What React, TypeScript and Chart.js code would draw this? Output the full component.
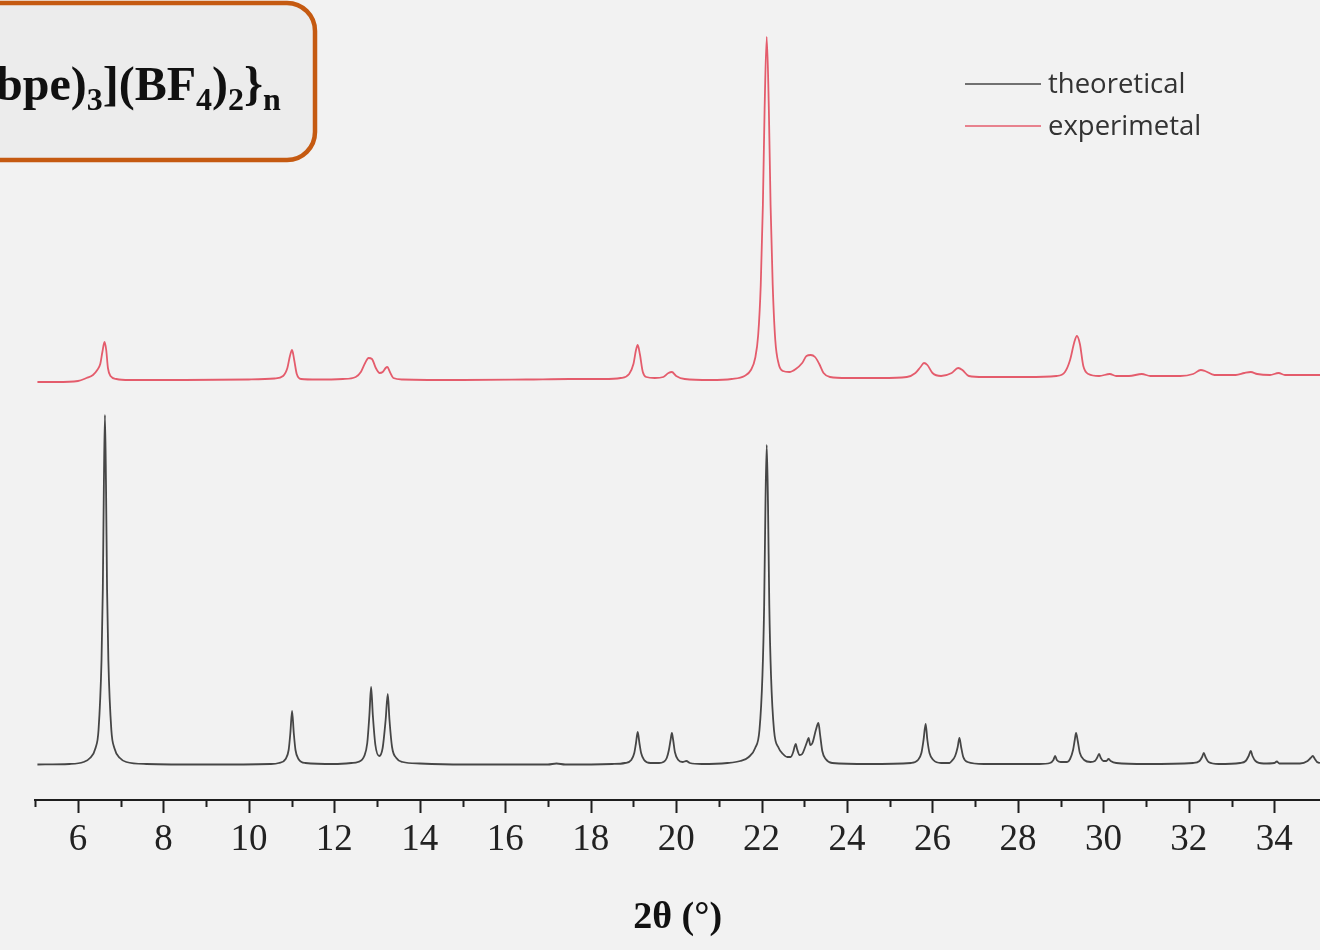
import React, { useEffect, useRef } from "react";
import { Chart, registerables } from "chart.js";

Chart.register(...registerables);

// 2θ (degrees) / intensity pairs of the simulated pattern
const theoreticalPattern: [number, number][] = [
  [5.05, 0.5], [5.8, 1], [6.13, 3], [6.28, 7], [6.41, 17], [6.48, 35], [6.55, 105], [6.58, 175],
  [6.605, 280], [6.63, 350], [6.655, 280], [6.68, 175], [6.71, 105], [6.78, 35], [6.85, 17],
  [6.98, 7], [7.13, 3], [7.6, 1], [9.0, 0.5], [10.5, 1],
  [10.7, 2], [10.86, 6], [10.93, 15], [10.97, 32], [11.01, 54], [11.05, 32], [11.09, 15], [11.16, 6], [11.32, 2],
  [12.0, 1], [12.4, 2], [12.55, 3], [12.7, 9], [12.77, 22], [12.82, 50], [12.86, 78], [12.9, 50],
  [12.96, 20], [13.05, 9], [13.13, 17], [13.2, 45], [13.25, 71], [13.29, 45], [13.35, 18], [13.45, 7],
  [13.6, 3], [14.0, 1.5], [15.0, 0.5], [17.0, 0.5], [17.2, 1.5], [17.4, 0.5], [18.5, 1],
  [18.8, 2], [18.95, 5], [19.02, 12], [19.06, 22], [19.1, 33], [19.14, 22], [19.18, 12], [19.25, 5], [19.4, 2],
  [19.6, 2], [19.7, 3], [19.78, 7], [19.83, 15], [19.87, 25], [19.9, 32], [19.93, 25], [19.97, 13],
  [20.05, 5], [20.15, 3], [20.24, 4], [20.32, 2], [20.6, 1],
  [21.2, 2], [21.5, 4], [21.7, 8], [21.85, 17], [21.95, 35], [22.02, 90], [22.06, 160], [22.09, 260],
  [22.12, 320], [22.15, 260], [22.18, 160], [22.22, 90], [22.29, 35], [22.4, 17], [22.5, 11],
  [22.6, 8], [22.68, 8], [22.74, 13], [22.77, 18], [22.8, 21], [22.83, 16], [22.89, 10], [22.95, 11],
  [23.02, 18], [23.07, 24], [23.1, 27], [23.14, 20], [23.19, 22], [23.27, 35], [23.33, 42], [23.37, 30],
  [23.42, 14], [23.5, 6], [23.65, 2], [24.5, 1],
  [25.5, 2], [25.66, 5], [25.74, 12], [25.79, 25], [25.84, 41], [25.88, 25], [25.93, 12], [26.02, 5],
  [26.2, 2], [26.4, 2], [26.45, 4], [26.53, 9], [26.59, 18], [26.63, 27], [26.67, 18], [26.72, 8],
  [26.82, 3], [27.2, 1], [28.5, 1],
  [28.75, 2], [28.83, 5], [28.87, 9], [28.91, 5], [29.0, 3], [29.15, 3], [29.22, 6], [29.29, 15],
  [29.33, 25], [29.36, 32], [29.4, 24], [29.45, 12], [29.55, 5], [29.7, 3], [29.8, 4], [29.85, 7],
  [29.9, 11], [29.94, 7], [30.0, 4], [30.07, 4], [30.12, 6], [30.17, 4], [30.3, 2], [31.0, 1], [32.1, 2],
  [32.25, 4], [32.31, 8], [32.35, 12], [32.39, 8], [32.46, 3], [32.7, 1], [33.2, 2],
  [33.33, 4], [33.4, 9], [33.45, 14], [33.49, 9], [33.56, 4], [33.75, 1.5], [34.0, 2], [34.06, 3.5],
  [34.12, 1.5], [34.6, 1.5], [34.78, 4], [34.85, 7], [34.9, 9], [34.95, 6], [35.0, 3], [35.07, 2],
];

// 2θ (degrees) / intensity pairs of the measured pattern
const experimentalPattern: [number, number][] = [
  [5.05, -2], [5.5, -2], [6.0, -1], [6.2, 2], [6.35, 5], [6.45, 10], [6.52, 16], [6.57, 28], [6.62, 38],
  [6.66, 30], [6.7, 12], [6.76, 4], [6.9, 1], [7.2, 0], [8.5, 0], [10.0, 0.5], [10.6, 1.5], [10.8, 4],
  [10.9, 12], [10.96, 24], [11.01, 30], [11.06, 20], [11.12, 6], [11.22, 1], [11.6, 0.5], [12.2, 1],
  [12.5, 3], [12.62, 8], [12.72, 17], [12.8, 22], [12.88, 21], [12.97, 12], [13.06, 7], [13.13, 8],
  [13.2, 12], [13.24, 13], [13.3, 8], [13.38, 2], [13.6, 0.5], [15.0, 0], [16.5, 0.5], [17.5, 1],
  [18.3, 1], [18.7, 2], [18.9, 6], [19.0, 16], [19.06, 30], [19.1, 35], [19.15, 26], [19.22, 8],
  [19.3, 3], [19.5, 2], [19.7, 3], [19.82, 7], [19.9, 8], [20.0, 4], [20.2, 1], [20.8, 0], [21.3, 1],
  [21.6, 4], [21.75, 10], [21.85, 22], [21.92, 45], [21.98, 95], [22.03, 175], [22.07, 270],
  [22.12, 343], [22.17, 270], [22.21, 175], [22.26, 95], [22.32, 40], [22.4, 16], [22.5, 9],
  [22.65, 8], [22.8, 11], [22.95, 17], [23.05, 24], [23.15, 25], [23.25, 23], [23.35, 16], [23.45, 7],
  [23.6, 3], [24.0, 2], [24.8, 2], [25.4, 3], [25.6, 7], [25.72, 13], [25.8, 17], [25.88, 15],
  [26.0, 7], [26.2, 4], [26.45, 7], [26.6, 12], [26.7, 10], [26.85, 4], [27.2, 3], [28.2, 3],
  [28.9, 4], [29.1, 8], [29.22, 20], [29.32, 38], [29.38, 44], [29.45, 36], [29.53, 14], [29.65, 6],
  [29.9, 4], [30.15, 6], [30.3, 4], [30.6, 4], [30.9, 6], [31.1, 4], [31.8, 4], [32.1, 6], [32.28, 10],
  [32.38, 9], [32.6, 5], [33.1, 5], [33.3, 7], [33.45, 8], [33.6, 6], [33.9, 5], [34.1, 7], [34.25, 5],
  [35.07, 5],
];

// vertical shift that stacks the measured pattern above the simulated one
const experimentalOffset = 385;

const seriesLabels = ["theoretical", "experimetal"];
const seriesColors = ["rgb(70,70,70)", "rgb(228,92,108)"];

const xMin = 5;
const xMax = 35.07;
const xTitle = "2θ (°)";

// formula fragments: [text, isSubscript]
const formulaParts: [string, boolean][] = [
  ["bpe)", false], ["3", true], ["](BF", false], ["4", true], [")", false], ["2", true], ["}", false], ["n", true],
];

const decorPlugin = {
  id: "decor",
  beforeDraw(chart: any) {
    const { ctx, width, height } = chart;
    ctx.save();
    ctx.fillStyle = "rgb(242,242,242)";
    ctx.fillRect(0, 0, width, height);
    ctx.restore();
  },
  afterDraw(chart: any) {
    const ctx: CanvasRenderingContext2D = chart.ctx;
    const xs = chart.scales.x;

    // major / minor tick marks hanging below the axis line
    ctx.save();
    ctx.strokeStyle = "#1e1e1e";
    ctx.lineWidth = 2;
    const y0 = xs.top;
    xs.ticks.forEach((t: any) => {
      const v = t.value;
      if (!Number.isInteger(v)) return;
      const px = Math.round(xs.getPixelForValue(v)) + 0.5;
      const len = v % 2 === 0 ? 13 : 7;
      ctx.beginPath();
      ctx.moveTo(px, y0);
      ctx.lineTo(px, y0 + len);
      ctx.stroke();
    });
    ctx.restore();

    // legend
    ctx.save();
    ctx.font = "27.5px 'Open Sans'";
    ctx.textBaseline = "middle";
    chart.data.datasets.forEach((ds: any, i: number) => {
      const ly = 84 + i * 42;
      ctx.globalAlpha = 0.75;
      ctx.strokeStyle = ds.borderColor;
      ctx.lineWidth = 2;
      ctx.beginPath();
      ctx.moveTo(965, ly);
      ctx.lineTo(1041, ly);
      ctx.stroke();
      ctx.globalAlpha = 1;
      ctx.fillStyle = "#333";
      ctx.fillText(ds.label, 1048, ly + 1);
    });
    ctx.restore();

    // formula box in the top-left corner
    ctx.save();
    ctx.beginPath();
    ctx.roundRect(-40, 3, 355, 157, 28);
    ctx.fillStyle = "rgb(236,236,236)";
    ctx.fill();
    ctx.lineWidth = 4.5;
    ctx.strokeStyle = "rgb(197,90,17)";
    ctx.stroke();
    ctx.fillStyle = "#111";
    ctx.textBaseline = "alphabetic";
    let tx = -4;
    formulaParts.forEach(([txt, sub]) => {
      ctx.font = sub ? "bold 32px 'Liberation Serif'" : "bold 48px 'Liberation Serif'";
      ctx.fillText(txt, tx, sub ? 110 : 100);
      tx += ctx.measureText(txt).width;
    });
    ctx.restore();
  },
};

export default function App() {
  const canvasRef = useRef<HTMLCanvasElement | null>(null);

  useEffect(() => {
    if (!canvasRef.current) return;
    const chart = new Chart(canvasRef.current, {
      type: "line",
      data: {
        datasets: [
          {
            label: seriesLabels[0],
            data: theoreticalPattern.map(([x, y]) => ({ x, y })),
            borderColor: seriesColors[0],
            borderWidth: 1.8,
            pointRadius: 0,
            cubicInterpolationMode: "monotone",
          },
          {
            label: seriesLabels[1],
            data: experimentalPattern.map(([x, y]) => ({ x, y: y + experimentalOffset })),
            borderColor: seriesColors[1],
            borderWidth: 1.8,
            pointRadius: 0,
            cubicInterpolationMode: "monotone",
          },
        ],
      },
      options: {
        animation: false,
        responsive: false,
        layout: { padding: { left: 35.3, right: 0, top: 0, bottom: 0 } },
        plugins: { legend: { display: false }, tooltip: { enabled: false }, title: { display: false } },
        scales: {
          x: {
            type: "linear",
            min: xMin,
            max: xMax,
            grid: { display: false, drawTicks: false },
            border: { display: true, color: "#1e1e1e", width: 2 },
            ticks: {
              stepSize: 1,
              autoSkip: false,
              maxRotation: 0,
              padding: 18,
              color: "#222",
              font: { family: "'Liberation Serif', serif", size: 37 },
              callback: (v: any) => (Number.isInteger(v) && v % 2 === 0 && v >= 6 && v <= 34 ? String(v) : ""),
            },
            title: {
              display: true,
              text: xTitle,
              color: "#111",
              font: { family: "'Liberation Serif', serif", size: 38, weight: "bold" },
              padding: { top: 0, bottom: 9 },
            },
            afterFit: (axis: any) => {
              axis.height = 150;
              axis.paddingLeft = 0;
              axis.paddingRight = 0;
            },
          },
          y: { display: false, min: -35, max: 765 },
        },
      },
      plugins: [decorPlugin],
    } as any);
    return () => chart.destroy();
  }, []);

  return (
    <div style={{ position: "fixed", left: 0, top: 0, width: 1320, height: 950, background: "rgb(242,242,242)" }}>
      <canvas ref={canvasRef} width={1320} height={950} style={{ display: "block" }} />
    </div>
  );
}
